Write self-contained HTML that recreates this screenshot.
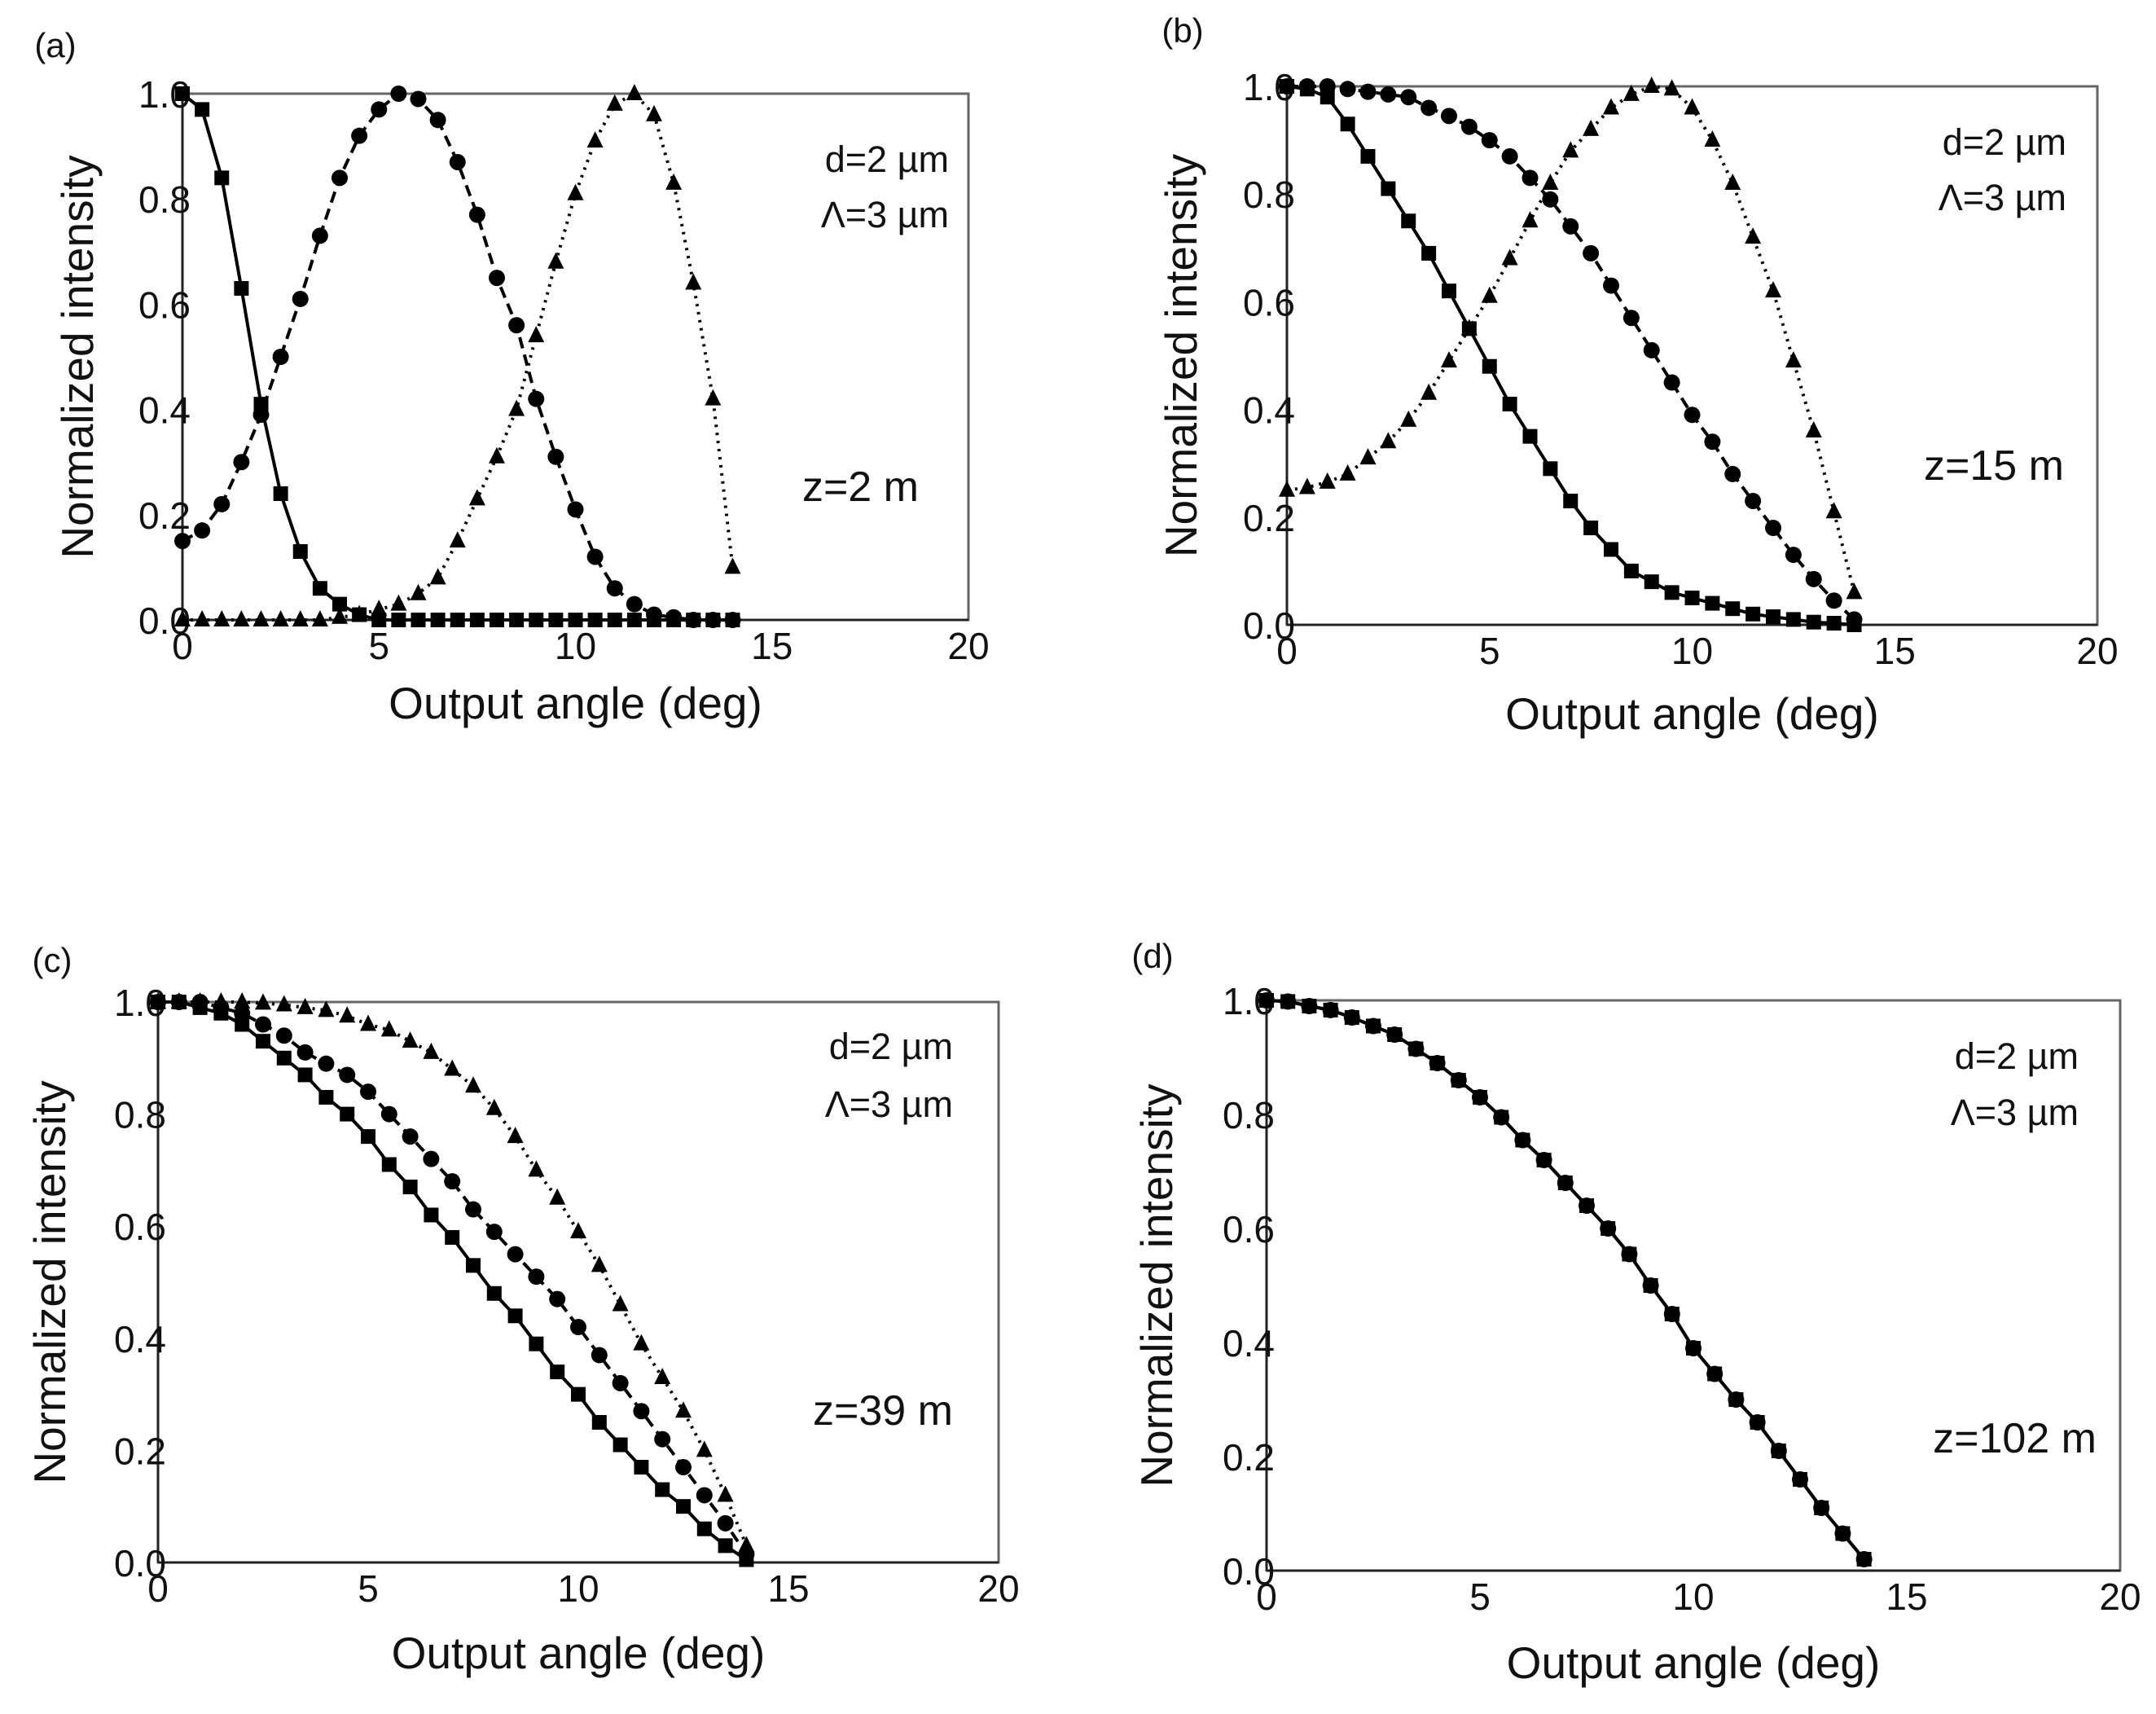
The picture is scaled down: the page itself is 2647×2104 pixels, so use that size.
<!DOCTYPE html>
<html>
<head>
<meta charset="utf-8">
<style>
  html,body{margin:0;padding:0;background:#fff;}
  svg{display:block;}
  text{font-family:"Liberation Sans",Arial,sans-serif;fill:#111;}
</style>
</head>
<body>
<svg id="fig" width="2647" height="2104" viewBox="0 0 2647 2104" xmlns="http://www.w3.org/2000/svg"></svg>
<script>
// ---- data (angle in deg, normalized intensity) ----
const angles = [0,0.5,1,1.5,2,2.5,3,3.5,4,4.5,5,5.5,6,6.5,7,7.5,8,8.5,9,9.5,10,10.5,11,11.5,12,12.5,13,13.5,14];
const xTicks = [0,5,10,15,20];
const xTickLabels = ["0","5","10","15","20"];
const yTicks = [0,0.2,0.4,0.6,0.8,1.0];
const yTickLabels = ["0.0","0.2","0.4","0.6","0.8","1.0"];

// (a) z=2 m
const aSquare = [1.0,0.97,0.84,0.63,0.41,0.24,0.13,0.06,0.03,0.01,0,0,0,0,0,0,0,0,0,0,0,0,0,0,0,0,0,0,0];
const aCircle = [0.15,0.17,0.22,0.30,0.39,0.50,0.61,0.73,0.84,0.92,0.97,1.0,0.99,0.95,0.87,0.77,0.65,0.56,0.42,0.31,0.21,0.12,0.06,0.03,0.01,0.005,0,0,0];
const aTriangle = [0,0,0,0,0,0,0,0,0.005,0.01,0.02,0.03,0.05,0.08,0.15,0.23,0.31,0.40,0.54,0.68,0.81,0.91,0.98,1.0,0.96,0.83,0.64,0.42,0.10];
// (b) z=15 m
const bSquare = [1.0,0.995,0.98,0.93,0.87,0.81,0.75,0.69,0.62,0.55,0.48,0.41,0.35,0.29,0.23,0.18,0.14,0.10,0.08,0.06,0.05,0.04,0.03,0.02,0.015,0.01,0.005,0.003,0];
const bCircle = [1.0,1.0,1.0,0.995,0.99,0.985,0.98,0.96,0.945,0.925,0.90,0.87,0.83,0.79,0.74,0.69,0.63,0.57,0.51,0.45,0.39,0.34,0.28,0.23,0.18,0.13,0.085,0.045,0.01];
const bTriangle = [0.25,0.255,0.265,0.28,0.31,0.34,0.38,0.43,0.49,0.55,0.61,0.68,0.75,0.82,0.88,0.92,0.96,0.985,1.0,0.995,0.96,0.90,0.82,0.72,0.62,0.49,0.36,0.21,0.06];
// (c) z=39 m
const cSquare = [1.0,1.0,0.99,0.98,0.96,0.93,0.90,0.87,0.83,0.80,0.76,0.71,0.67,0.62,0.58,0.53,0.48,0.44,0.39,0.34,0.30,0.25,0.21,0.17,0.13,0.10,0.06,0.03,0.005];
const cCircle = [1.0,1.0,1.0,0.99,0.98,0.96,0.94,0.91,0.89,0.87,0.84,0.80,0.76,0.72,0.68,0.63,0.59,0.55,0.51,0.47,0.42,0.37,0.32,0.27,0.22,0.17,0.12,0.07,0.015];
const cTriangle = [1.0,1.0,1.0,1.0,1.0,0.998,0.995,0.99,0.985,0.975,0.96,0.95,0.93,0.91,0.88,0.85,0.81,0.76,0.70,0.65,0.59,0.53,0.46,0.39,0.33,0.27,0.20,0.12,0.03];
// (d) z=102 m (all three coincide)
const dSeries = [1.0,0.998,0.99,0.983,0.97,0.955,0.94,0.915,0.89,0.86,0.83,0.795,0.755,0.72,0.68,0.64,0.60,0.555,0.50,0.45,0.39,0.345,0.30,0.26,0.21,0.16,0.11,0.065,0.02];

const NS = "http://www.w3.org/2000/svg";
const svg = document.getElementById('fig');
function mk(tag, attrs, parent){
  const e = document.createElementNS(NS, tag);
  for (const k in attrs) e.setAttribute(k, attrs[k]);
  (parent||svg).appendChild(e);
  return e;
}

const panels = [
  {id:'a', x0:224, x1:1189, y0:115, y1:761, label:'(a)', lx:68, ly:70, ann:'z=2 m', annX:1128, annY:615, dY:211, lamY:279, dX:1165, ytx:95, xty:882,
   series:[{v:aSquare,m:'square',dash:''},{v:aCircle,m:'circle',dash:'14,8'},{v:aTriangle,m:'triangle',dash:'3,7'}]},
  {id:'b', x0:1580, x1:2575, y0:106, y1:767, label:'(b)', lx:1452, ly:52, ann:'z=15 m', annX:2534, annY:589, dY:190, lamY:258, dX:2537, ytx:1450, xty:895,
   series:[{v:bSquare,m:'square',dash:''},{v:bCircle,m:'circle',dash:'14,8'},{v:bTriangle,m:'triangle',dash:'3,7'}]},
  {id:'c', x0:194, x1:1226, y0:1230, y1:1918, label:'(c)', lx:64, ly:1193, ann:'z=39 m', annX:1170, annY:1749, dY:1300, lamY:1371, dX:1170, ytx:61, xty:2048,
   series:[{v:cSquare,m:'square',dash:''},{v:cCircle,m:'circle',dash:'14,8'},{v:cTriangle,m:'triangle',dash:'3,7'}]},
  {id:'d', x0:1555, x1:2603, y0:1228, y1:1928, label:'(d)', lx:1415, ly:1188, ann:'z=102 m', annX:2574, annY:1783, dY:1312, lamY:1381, dX:2552, ytx:1420, xty:2060,
   series:[{v:dSeries,m:'square',dash:''},{v:dSeries,m:'circle',dash:''}]}
];

panels.forEach(p=>{
  const g = mk('g',{});
  
  
  const xs = v => p.x0 + (v/20)*(p.x1-p.x0);
  const ys = v => p.y1 - v*(p.y1-p.y0);

  const lab = mk('text',{x:p.lx,y:p.ly,'font-size':42,'text-anchor':'middle'},g);
  lab.textContent = p.label;
  
  

  const fr = mk('rect',{x:p.x0,y:p.y0,width:p.x1-p.x0,height:p.y1-p.y0,fill:'none',stroke:'#666','stroke-width':3},g);
  
  
  mk('line',{x1:p.x0,y1:p.y0,x2:p.x0,y2:p.y1,stroke:'#222','stroke-width':3},g);
  mk('line',{x1:p.x0,y1:p.y1,x2:p.x1,y2:p.y1,stroke:'#222','stroke-width':3},g);

  xTicks.forEach((t,i)=>{
    const tx = mk('text',{x:xs(t),y:p.y1+48,'font-size':46,'text-anchor':'middle'},g);
    tx.textContent = xTickLabels[i];
    
    
  });
  yTicks.forEach((t,i)=>{
    const ty = mk('text',{x:p.x0+10,y:ys(t)+17,'font-size':46,'text-anchor':'end'},g);
    ty.textContent = yTickLabels[i];
    
    
  });

  const xt = mk('text',{x:(p.x0+p.x1)/2,y:p.xty,'font-size':55,'text-anchor':'middle'},g);
  xt.textContent = 'Output angle (deg)';
  
  
  const cy = (p.y0+p.y1)/2;
  const yt = mk('text',{x:p.ytx,y:cy,'font-size':55,'text-anchor':'middle',transform:'rotate(-90 '+p.ytx+' '+cy+')','dominant-baseline':'central'},g);
  yt.textContent = 'Normalized intensity';
  
  

  const t1 = mk('text',{x:p.dX,y:p.dY,'font-size':45,'text-anchor':'end'},g);
  t1.textContent = 'd=2 \u00B5m';
  
  
  const t2 = mk('text',{x:p.dX,y:p.lamY,'font-size':45,'text-anchor':'end'},g);
  t2.textContent = '\u039B=3 \u00B5m';
  
  
  const t3 = mk('text',{x:p.annX,y:p.annY,'font-size':52,'text-anchor':'end'},g);
  t3.textContent = p.ann;
  
  

  p.series.forEach(s=>{
    const pts = angles.map((a,i)=>xs(a).toFixed(1)+','+ys(s.v[i]).toFixed(1)).join(' ');
    const pl = mk('polyline',{points:pts,fill:'none',stroke:'#000','stroke-width':4,'stroke-dasharray':s.dash||'none'},g);
    
    
    angles.forEach((a,i)=>{
      const x = xs(a), y = ys(s.v[i]);
      let m;
      if (s.m==='square') m = mk('rect',{x:x-9,y:y-9,width:18,height:18,fill:'#000'},g);
      else if (s.m==='circle') m = mk('circle',{cx:x,cy:y,r:10,fill:'#000'},g);
      else m = mk('polygon',{points:(x)+','+(y-12)+' '+(x-10)+','+(y+8)+' '+(x+10)+','+(y+8),fill:'#000'},g);
      
      
    });
  });
});
</script>
</body>
</html>
